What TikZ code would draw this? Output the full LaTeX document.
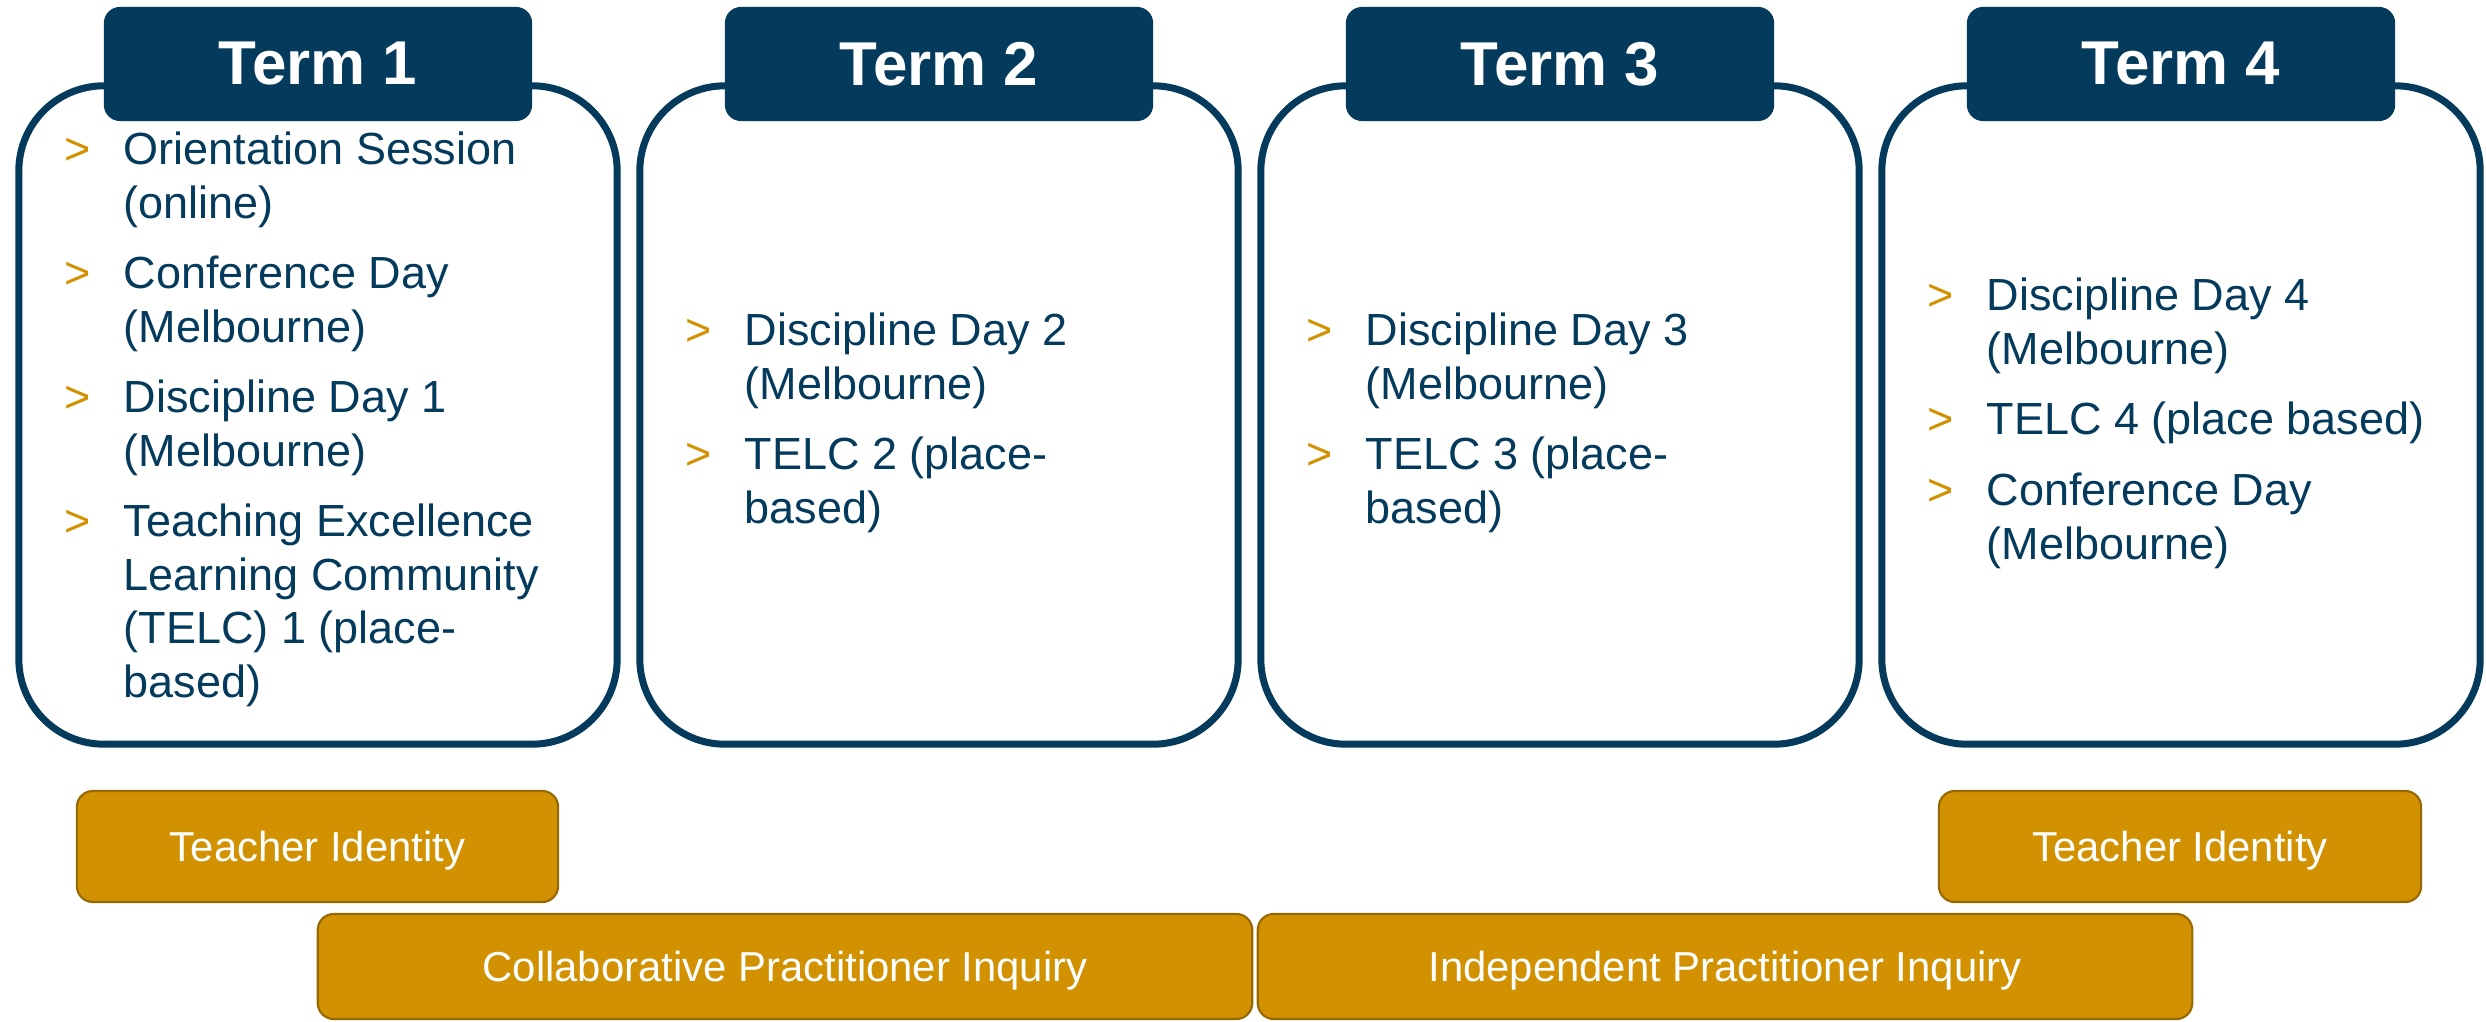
\documentclass[tikz,border=0pt]{standalone}
\usepackage{fontspec}
\setmainfont{Liberation Sans}
\definecolor{navy}{RGB}{4,59,92}
\definecolor{gold}{RGB}{209,145,0}
\definecolor{golddark}{RGB}{150,104,0}
\begin{document}
\begin{tikzpicture}[x=0.01cm,y=-0.01cm,
  termbox/.style={draw=navy, line width=0.07cm, rounded corners=0.85cm, fill=white,
    minimum width=5.98cm, minimum height=6.58cm, inner sep=0pt},
  termtab/.style={fill=navy, rounded corners=0.16cm, text=white,
    minimum width=4.28cm, minimum height=1.14cm, inner sep=0pt,
    font=\fontsize{17.6}{20}\selectfont\bfseries},
  item/.style={anchor=base west, inner sep=0pt, align=left, text=navy,
    font=\fontsize{12.8}{15.22}\selectfont},
  bul/.style={anchor=base west, inner sep=0pt, text=gold,
    font=\fontsize{12.8}{15.22}\selectfont},
  phase/.style={fill=gold, draw=golddark, line width=0.6pt, rounded corners=0.16cm,
    text=white, inner sep=0pt, text depth=0pt, font=\fontsize{11.9}{14}\selectfont}]
\useasboundingbox (0,0) rectangle (2486,1022);

% term boxes
\node[termbox] (b1) at (318,415) {};
\node[termbox] (b2) at (939,415) {};
\node[termbox] (b3) at (1560,415) {};
\node[termbox] (b4) at (2181,415) {};

% tabs
\node[termtab] (t1) at (318,64) {Term 1};
\node[termtab] (t2) at (939,64) {Term 2};
\node[termtab] (t3) at (1560,64) {Term 3};
\node[termtab] (t4) at (2181,64) {Term 4};

% Term 1 items (item nodes anchored at the baseline of their last line)
\node[bul] (g11) at (64,165) {>};
\node[item] (i11) at (123,218.5) {Orientation Session\\(online)};
\node[bul] (g12) at (64,289) {>};
\node[item] (i12) at (123,342.5) {Conference Day\\(Melbourne)};
\node[bul] (g13) at (64,413) {>};
\node[item] (i13) at (123,466.5) {Discipline Day 1\\(Melbourne)};
\node[bul] (g14) at (64,537) {>};
\node[item] (i14) at (123,697.5) {Teaching Excellence\\Learning Community\\(TELC) 1 (place-\\based)};

% Term 2 items
\node[bul] (g21) at (685,346) {>};
\node[item] (i21) at (744,399.5) {Discipline Day 2\\(Melbourne)};
\node[bul] (g22) at (685,470) {>};
\node[item] (i22) at (744,523.5) {TELC 2 (place-\\based)};

% Term 3 items
\node[bul] (g31) at (1306,346) {>};
\node[item] (i31) at (1365,399.5) {Discipline Day 3\\(Melbourne)};
\node[bul] (g32) at (1306,470) {>};
\node[item] (i32) at (1365,523.5) {TELC 3 (place-\\based)};

% Term 4 items
\node[bul] (g41) at (1927,311) {>};
\node[item] (i41) at (1986,364.5) {Discipline Day 4\\(Melbourne)};
\node[bul] (g42) at (1927,435) {>};
\node[item] (i42) at (1986,435) {TELC 4 (place based)};
\node[bul] (g43) at (1927,506) {>};
\node[item] (i43) at (1986,559.5) {Conference Day\\(Melbourne)};

% phase bars
\node[phase, minimum width=4.81cm, minimum height=1.11cm] (ti1) at (317.5,846.5) {Teacher Identity};
\node[phase, minimum width=4.82cm, minimum height=1.11cm] (ti2) at (2180,846.5) {Teacher Identity};
\node[phase, minimum width=9.34cm, minimum height=1.05cm] (cpi) at (785,966.5) {Collaborative Practitioner Inquiry};
\node[phase, minimum width=9.34cm, minimum height=1.05cm] (ipi) at (1725,966.5) {Independent Practitioner Inquiry};
\end{tikzpicture}
\end{document}
